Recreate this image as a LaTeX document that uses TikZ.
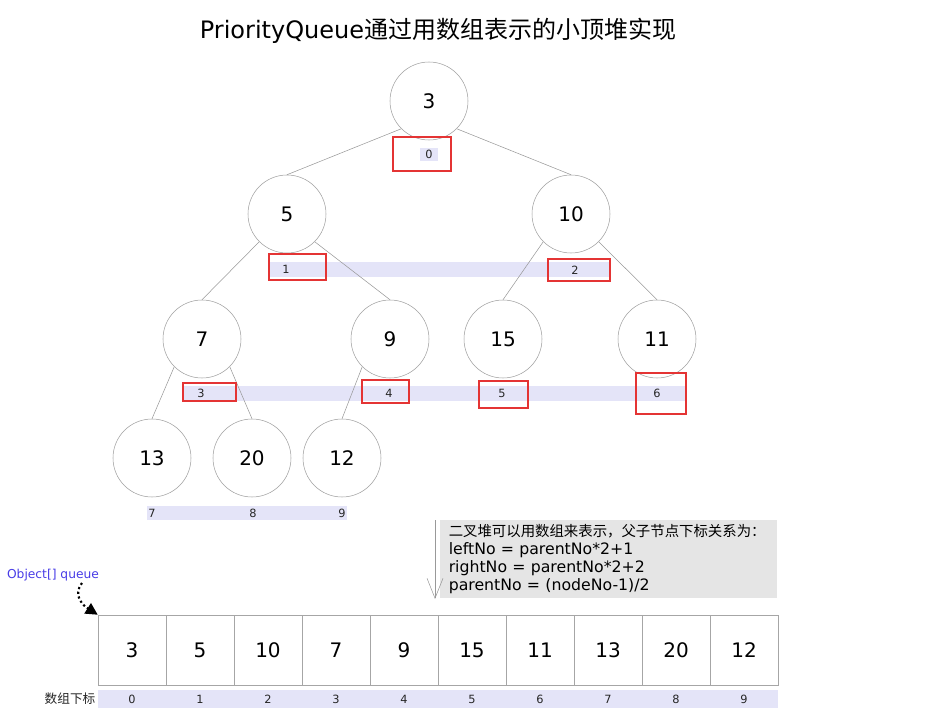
\documentclass[tikz,border=0pt]{standalone}
\usepackage{fontspec}
\setmainfont{DejaVu Sans}
\newfontfamily\cjk{Noto Sans CJK SC}
\usetikzlibrary{arrows.meta}
\definecolor{band}{RGB}{228,228,248}
\definecolor{mark}{RGB}{228,52,52}
\definecolor{notegray}{RGB}{229,229,229}
\definecolor{qblue}{RGB}{72,60,230}
\tikzset{
  heapnode/.style={circle,draw=gray!75,thin,fill=white,minimum size=58.5pt,inner sep=0pt,font=\fontsize{15}{18}\selectfont},
  idx/.style={font=\fontsize{8.5}{10}\selectfont,text=black!85,inner sep=1pt},
  redbox/.style={draw=mark,line width=1.9pt},
  edge/.style={draw=gray!80,thin},
  cell/.style={draw=gray!70,thin,minimum width=51pt,minimum height=52.5pt,inner sep=0pt,font=\fontsize{15}{18}\selectfont},
}

\begin{document}
\begin{tikzpicture}[x=0.75pt,y=-0.75pt]
  \useasboundingbox (0,0) rectangle (925,721);
  % title
  \node[font=\fontsize{18}{21}\selectfont] (title) at (438,31) {PriorityQueue{\cjk 通过用数组表示的小顶堆实现}};
  % index bands
  \fill[band] (420,148) rectangle (438,161);
  \fill[band] (270,262) rectangle (610,277);
  \fill[band] (183,386) rectangle (686,401);
  \fill[band] (147,506) rectangle (347,520);
  % heap
  \foreach \v/\x/\y [count=\i from 0] in {3/429/101,5/287/214,10/571/214,7/202/339,9/390/339,15/503/339,11/657/339,13/152/458,20/252/458,12/342/458}{%
    \node[heapnode] (h\i) at (\x,\y) {\v};
  }
  \foreach \a/\s/\b in {0/south west/1,0/south east/2,1/south west/3,1/south east/4,2/south west/5,2/south east/6,3/south west/7,3/south east/8,4/south west/9}{%
    \draw[edge] (h\a.\s) -- (h\b.north);
  }
  \foreach \x/\y [count=\i from 0] in {429/154,286/269,575/270,201/393,389/393,502/393,657/393,152/513,253/513,342/513}{%
    \node[idx] (n\i) at (\x,\y) {\i};
  }
  \foreach \xa/\ya/\xb/\yb in {393/137/451/171,269/254/326/280,548/259/610/281,183/383/236/401,362/380/409/403,479/381/528/408,636/373/686/414}{%
    \draw[redbox] (\xa,\ya) rectangle (\xb,\yb);
  }
  % note
  \node[fill=notegray,anchor=north west,minimum width=252.75pt,minimum height=56.25pt,text width=240pt,inner xsep=6pt,inner ysep=3pt,align=left,font=\fontsize{11.8}{13.5}\selectfont] (note) at (440,520) {{\cjk\fontsize{10.8}{13.5}\selectfont 二叉堆可以用数组来表示，父子节点下标关系为：}\\leftNo = parentNo*2+1\\rightNo = parentNo*2+2\\parentNo = (nodeNo-1)/2};
  \coordinate (arrtop) at (435,520);
  \coordinate (arrend) at (435,599);
  \draw[gray!80,thin,-{Straight Barb[length=15pt,width=12pt]}] (arrtop) -- (arrend);
  % array
  \fill[band] (98,690) rectangle (778,708);
  \foreach \v [count=\i from 0] in {3,5,10,7,9,15,11,13,20,12}{%
    \node[cell] (a\i) at ({132+68*\i},650) {\v};
    \node[idx] (k\i) at ({132+68*\i},699) {\i};
  }
  \node[idx,font=\fontsize{9.5}{11}\selectfont] (klabel) at (70,699) {\cjk 数组下标};
  \node[text=qblue,font=\fontsize{9.2}{11}\selectfont] (qlabel) at (53,575) {Object[] queue};
  \coordinate (qstart) at (82,583);
  \draw[dotted,line width=1.6pt,-{Triangle[length=9pt,width=9pt]}] (qstart) .. controls (72,596) and (84,606) .. (a0.north west);
\end{tikzpicture}
\end{document}
